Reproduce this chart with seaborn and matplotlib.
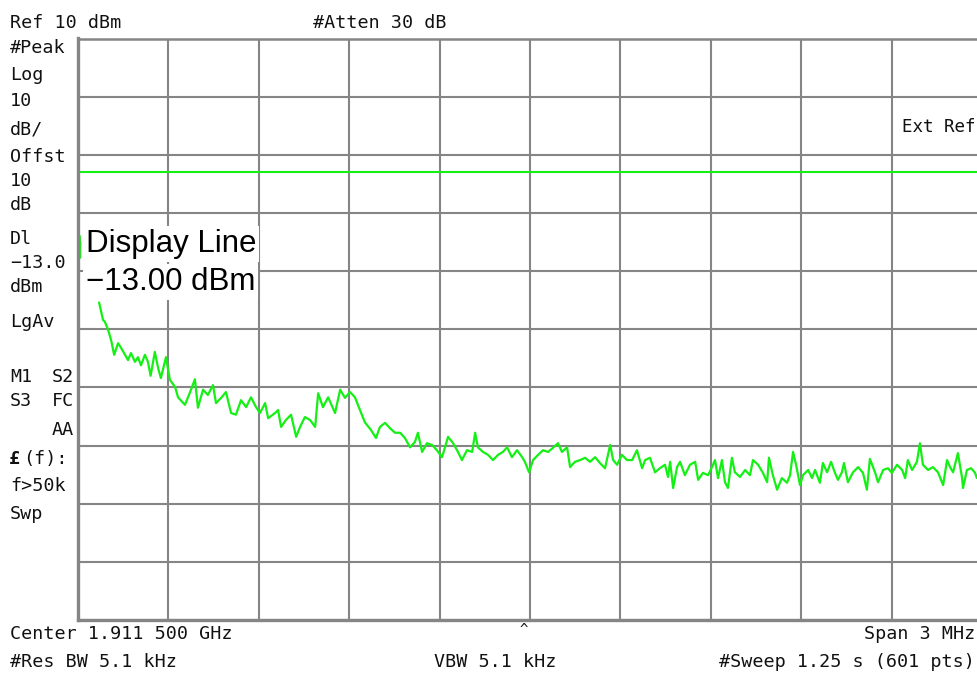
"""
============================================================
SPECTRUM ANALYZER SCREEN - PHASE NOISE TRACE
============================================================
"""

import matplotlib
matplotlib.use("Agg")

import matplotlib.pyplot as plt
import numpy as np
import pandas as pd
import seaborn as sns


# ============================================================
# Data
# ============================================================

ref_level_dbm = 10
db_per_div = 10
n_div = 10
span_khz = 3000
display_line_dbm = -13.0

offset_khz = [
    70, 83, 89, 100, 110, 120, 133, 143, 156, 166,
    176, 189, 199, 209, 222, 232, 241, 255, 266, 275,
    292, 305, 322, 332, 355, 372, 388, 398, 415, 431,
    448, 458, 475, 491, 508, 524, 541, 558, 574, 591,
    604, 621, 631, 654, 664, 674, 690, 707, 724, 737,
    753, 770, 787, 797, 813, 830, 853, 870, 886, 903,
    919, 936, 952, 972, 989,
    1002, 1019, 1035, 1052, 1069, 1085, 1102, 1118, 1128, 1142,
    1158, 1175, 1191, 1208, 1218, 1228, 1245, 1261, 1274, 1291,
    1308, 1318, 1327, 1344, 1361, 1377, 1394, 1410, 1424, 1440,
    1457, 1474, 1483, 1497, 1510, 1527, 1543, 1560, 1576, 1593,
    1606, 1623, 1633, 1649, 1666, 1683, 1699, 1716, 1732, 1749,
    1766, 1776, 1789, 1805, 1822, 1839, 1855, 1872, 1882, 1898,
    1915, 1931, 1948, 1958,
    1965, 1975, 1988, 1998, 2014, 2031, 2048, 2058, 2074, 2091,
    2104, 2114, 2124, 2137, 2147, 2157, 2170, 2180, 2197, 2214,
    2230, 2240, 2257, 2273, 2287, 2293, 2306, 2320,
    2336, 2353, 2363, 2373, 2383, 2396, 2406, 2423, 2436, 2446,
    2462, 2472, 2486, 2499, 2512, 2522, 2535, 2542, 2555, 2572,
    2589, 2605, 2618, 2628, 2645, 2655, 2672, 2688, 2701, 2718,
    2735, 2745, 2754, 2768, 2784, 2794, 2804, 2821, 2837, 2854,
    2871, 2884, 2894, 2904, 2920, 2934, 2937, 2950, 2964, 2977,
    2983, 2993, 3000,
]

trace_dbm = [
    -35.4, -38.4, -38.7, -40.1, -41.9, -44.4, -42.4, -43.2, -44.4, -45.3,
    -44.1, -45.6, -44.8, -46.2, -44.4, -45.6, -48.0, -43.9, -46.7, -48.4,
    -44.8, -48.7, -49.9, -51.7, -53.0, -50.8, -48.6, -53.5, -50.4, -51.3,
    -49.6, -52.7, -51.8, -50.8, -54.4, -54.7, -52.2, -53.4, -51.7, -53.4,
    -54.4, -52.7, -55.3, -54.4, -53.9, -56.8, -55.6, -54.7, -58.5, -56.8,
    -55.1, -55.6, -56.8, -51.0, -53.4, -51.7, -54.4, -50.4, -51.8, -50.8,
    -51.7, -53.9, -56.0, -57.3, -58.7,
    -56.8, -56.1, -57.0, -57.8, -57.8, -58.7, -60.3, -59.4, -57.8, -61.1,
    -59.6, -59.9, -60.8, -62.0, -60.3, -58.5, -59.6, -61.1, -62.5, -60.8,
    -61.1, -57.8, -60.3, -61.1, -61.6, -62.5, -61.6, -61.1, -60.3, -62.0,
    -60.8, -62.0, -62.8, -64.6, -62.5, -61.6, -60.8, -61.1, -60.4, -59.6,
    -61.1, -60.3, -63.7, -62.8, -62.5, -62.1, -62.8, -62.0, -63.0, -63.9,
    -59.9, -62.5, -63.3, -61.6, -62.5, -62.5, -60.8, -63.9, -62.5, -62.1,
    -64.6, -63.9, -63.3, -65.4,
    -62.8, -67.3, -63.7, -62.8, -65.1, -63.3, -62.8, -65.9, -64.7, -65.1,
    -63.7, -62.5, -65.6, -62.5, -66.3, -67.3, -62.1, -64.6, -65.4, -64.2,
    -65.1, -62.5, -63.3, -64.7, -66.3, -62.1, -65.1, -67.6,
    -65.6, -66.4, -65.1, -61.1, -63.3, -66.8, -65.1, -64.2, -65.6, -64.2,
    -66.4, -63.0, -64.6, -62.8, -64.7, -65.9, -64.6, -63.0, -66.3, -64.6,
    -63.7, -64.7, -67.6, -62.3, -64.6, -66.3, -64.2, -63.9, -64.7, -63.3,
    -64.2, -65.6, -62.5, -64.2, -62.8, -59.6, -63.3, -64.2, -63.7, -64.6,
    -66.8, -62.5, -63.7, -64.6, -61.3, -65.6, -67.3, -64.2, -63.9, -64.7,
    -65.6, -64.2, -64.0,
]

# short trace stub at the very left edge of the screen
edge_khz = [6, 6, 7, 7]
edge_dbm = [-24.0, -27.0, -25.0, -27.7]


# ============================================================
# Theme
# ============================================================

sns.set_style("white")

plt.rcParams["font.family"] = ["DejaVu Sans Mono", "DejaVu Sans"]

W, H = 977, 675
GRID = "#858585"
TRACE = "#14f014"
MONO = 13.2


def put(x, y, s, **kw):
    kw.setdefault("fontsize", MONO)
    kw.setdefault("va", "center")
    kw.setdefault("color", "#111111")
    fig.text(x / W, 1 - y / H, s, **kw)


# ============================================================
# Figure
# ============================================================

fig = plt.figure(figsize=(W / 100, H / 100), dpi=100)

ax = fig.add_axes([78 / W, (H - 620) / H, 904 / W, 581.5 / H])

bottom_dbm = ref_level_dbm - n_div * db_per_div

ax.set_xlim(0, span_khz)
ax.set_ylim(bottom_dbm, ref_level_dbm)

ax.set_xticks(np.linspace(0, span_khz, n_div + 1))
ax.set_yticks(np.arange(bottom_dbm, ref_level_dbm + 1, db_per_div))
ax.tick_params(length=0, labelbottom=False, labelleft=False)
ax.grid(True, color=GRID, linewidth=1.5)
ax.set_axisbelow(True)

for side, spine in ax.spines.items():
    spine.set_color(GRID)
    spine.set_linewidth(2.4 if side in ("left", "bottom") else 1.8)

# ============================================================
# Trace + display line
# ============================================================

trace = pd.DataFrame({"offset_khz": offset_khz, "dbm": trace_dbm})

sns.lineplot(
    data=trace,
    x="offset_khz",
    y="dbm",
    estimator=None,
    color=TRACE,
    linewidth=1.6,
    ax=ax,
)

ax.plot(edge_khz, edge_dbm, color=TRACE, linewidth=1.6)

ax.axhline(display_line_dbm, color=TRACE, linewidth=1.5)

ax.set_xlabel("")
ax.set_ylabel("")

# ============================================================
# Annotations
# ============================================================

put(10, 23, "Ref 10 dBm")
put(313, 23, "#Atten 30 dB")
put(975, 127, "Ext Ref", ha="right", fontsize=12.6)

left_labels = [
    (48, "#Peak"),
    (75, "Log"),
    (101, "10"),
    (130, "dB/"),
    (157, "Offst"),
    (181, "10"),
    (205, "dB"),
    (239, "Dl"),
    (263, "\u221213.0"),
    (287, "dBm"),
    (322, "LgAv"),
    (486, "f>50k"),
    (514, "Swp"),
]
for y, s in left_labels:
    put(10, y, s)

put(10, 377, "M1")
put(74, 377, "S2", ha="right")
put(10, 401, "S3")
put(74, 401, "FC", ha="right")
put(74, 430, "AA", ha="right")
put(9, 459, "\u00a3", fontweight="bold")
put(23, 459, "(f):")

put(10, 634, "Center 1.911 500 GHz")
put(10, 662, "#Res BW 5.1 kHz")
put(434, 662, "VBW 5.1 kHz")
put(975, 634, "Span 3 MHz", ha="right")
put(975, 662, "#Sweep 1.25 s (601 pts)", ha="right")
put(524, 630, "^", ha="center", fontsize=10)

big = dict(
    fontsize=22.5,
    family=["Liberation Sans", "DejaVu Sans"],
    color="black",
    ha="left",
    bbox=dict(facecolor="white", edgecolor="none", pad=2),
)
put(86, 244, "Display Line", **big)
put(86, 282, "\u221213.00 dBm", **big)

fig.savefig("out.png", dpi=100)
plt.close(fig)
